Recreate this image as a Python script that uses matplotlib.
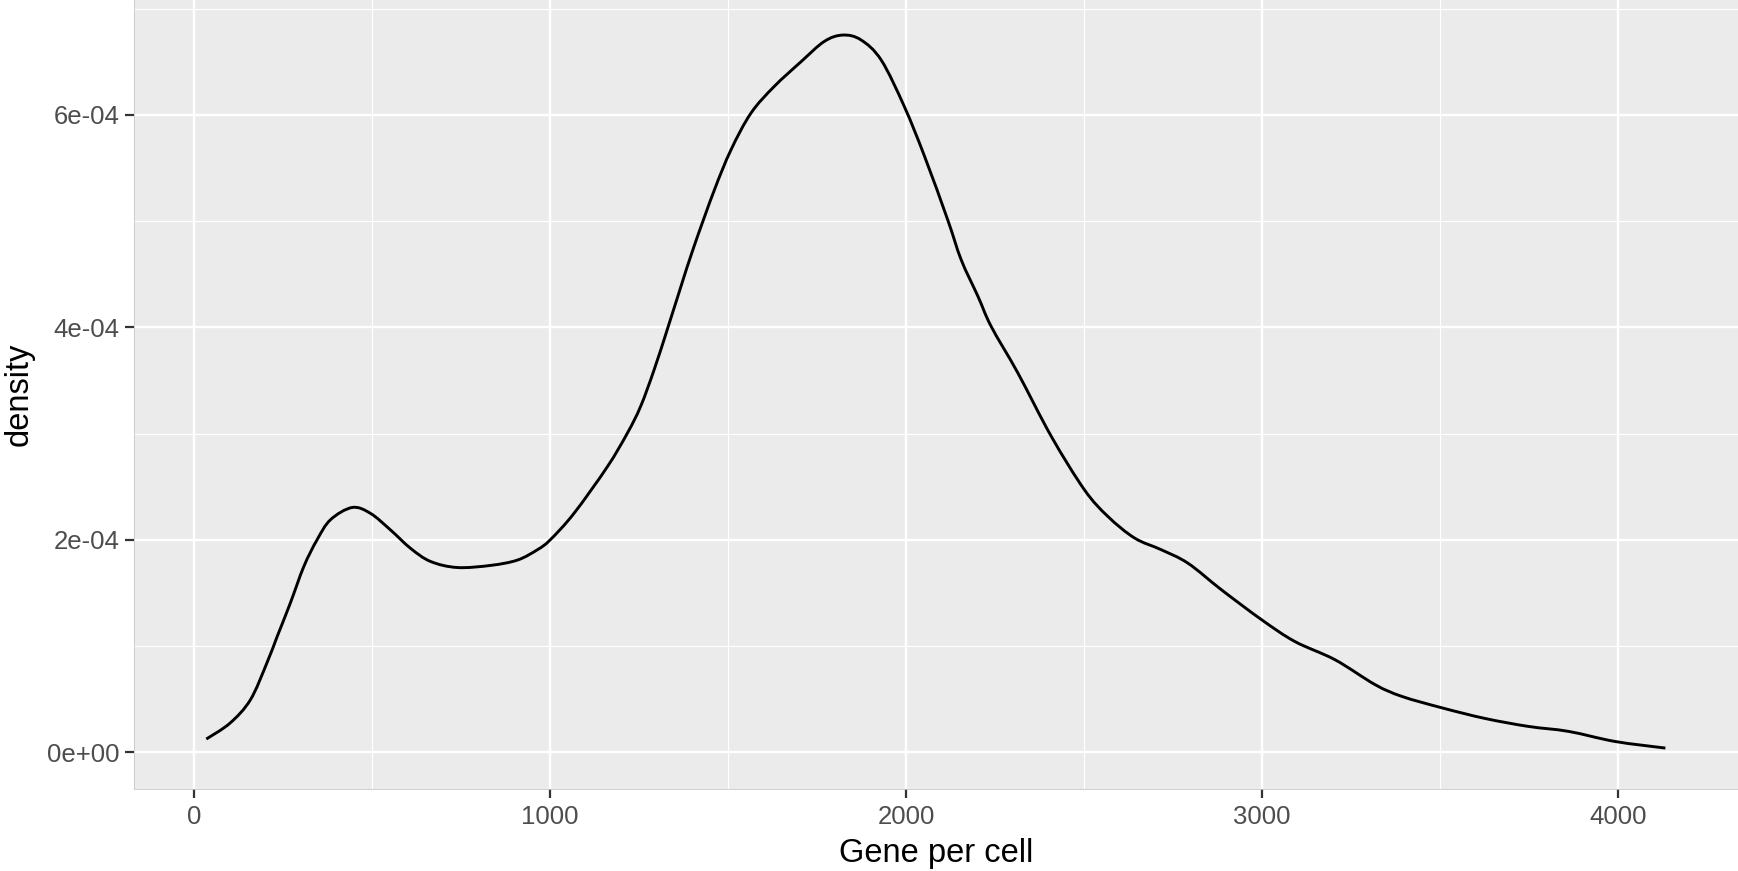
import matplotlib
matplotlib.use("Agg")
import matplotlib.pyplot as plt
from matplotlib.ticker import FixedLocator
from matplotlib.path import Path
from matplotlib.patches import PathPatch

# Data (x: genes per cell, y: density in units of 1e-4)
gene_per_cell = [34, 101, 158, 204, 233, 270, 308, 345, 383, 444, 495, 551, 608, 664,
                 739, 833, 908, 964, 1000, 1067, 1161, 1217, 1254, 1292, 1330, 1367,
                 1404, 1461, 1508, 1564, 1629, 1705, 1770, 1822, 1873, 1930, 1995,
                 2052, 2117, 2155, 2202, 2239, 2314, 2408, 2501, 2567, 2642, 2717,
                 2792, 2886, 2999, 3092, 3205, 3318, 3393, 3505, 3626, 3748, 3861,
                 3992, 4133]
density_e4 = [0.126, 0.277, 0.496, 0.84, 1.09, 1.405, 1.75, 2.0, 2.19, 2.305, 2.25,
              2.095, 1.92, 1.797, 1.74, 1.76, 1.81, 1.907, 2.0, 2.25, 2.69, 3.005,
              3.255, 3.6, 3.99, 4.38, 4.76, 5.29, 5.67, 6.015, 6.265, 6.5, 6.69, 6.75,
              6.705, 6.515, 6.077, 5.607, 5.01, 4.633, 4.29, 4.008, 3.57, 2.973, 2.471,
              2.22, 2.017, 1.907, 1.78, 1.53, 1.248, 1.044, 0.872, 0.637, 0.527, 0.42,
              0.32, 0.245, 0.198, 0.103, 0.041]
density = [v * 1e-4 for v in density_e4]

x_major = [0, 1000, 2000, 3000, 4000]
x_minor = [500, 1500, 2500, 3500]
y_major = [0, 2e-4, 4e-4, 6e-4]
y_minor = [1e-4, 3e-4, 5e-4, 7e-4]
y_labels = ["0e+00", "2e-04", "4e-04", "6e-04"]

plt.rcParams['font.family'] = ['Liberation Sans', 'DejaVu Sans']

W, H = 1738, 871
fig = plt.figure(figsize=(W / 100, H / 100), dpi=100)
left, bottom, right, top = 134.4, 789.0, 1738.0, 0.0
ax = fig.add_axes([left / W, 1 - bottom / H, (right - left) / W, (bottom - top) / H])
ax.set_facecolor('#EBEBEB')

# Smooth rendering of the density line through the read points (Catmull-Rom as Bezier)
pts = list(zip(gene_per_cell, density))
verts = [pts[0]]
codes = [Path.MOVETO]
n = len(pts)
for i in range(n - 1):
    p0 = pts[i - 1] if i > 0 else pts[i]
    p1 = pts[i]
    p2 = pts[i + 1]
    p3 = pts[i + 2] if i + 2 < n else pts[i + 1]
    c1 = (p1[0] + (p2[0] - p0[0]) / 6, p1[1] + (p2[1] - p0[1]) / 6)
    c2 = (p2[0] - (p3[0] - p1[0]) / 6, p2[1] - (p3[1] - p1[1]) / 6)
    verts += [c1, c2, p2]
    codes += [Path.CURVE4] * 3
ax.add_patch(PathPatch(Path(verts, codes), facecolor='none', edgecolor='black',
                       lw=2.1, zorder=3, capstyle='butt'))

ax.set_xlim(-168, 4337)
ax.set_ylim(-0.344e-4, 7.08e-4)

ax.xaxis.set_major_locator(FixedLocator(x_major))
ax.xaxis.set_minor_locator(FixedLocator(x_minor))
ax.yaxis.set_major_locator(FixedLocator(y_major))
ax.yaxis.set_minor_locator(FixedLocator(y_minor))
ax.set_yticklabels(y_labels)
ax.set_xticklabels([str(v) for v in x_major])

ax.grid(which='major', color='white', lw=1.7, zorder=1)
ax.grid(which='minor', color='white', lw=0.85, zorder=1)
ax.set_axisbelow(True)

ax.tick_params(which='major', length=6.5, width=1.6, color='#333333',
               labelcolor='#4D4D4D', labelsize=18.5, pad=4)
ax.tick_params(axis='x', which='major', pad=5)
ax.tick_params(which='minor', length=0)

for s in ax.spines.values():
    s.set_visible(False)
for s in ('left', 'bottom'):
    ax.spines[s].set_visible(True)
    ax.spines[s].set_color('#C8C8C8')
    ax.spines[s].set_linewidth(0.6)

fig.text((left + (right - left) / 2) / W, 1 - 853.5 / H, "Gene per cell",
         ha='center', va='center', fontsize=23.5, color='black')
fig.text(19 / W, 1 - (bottom / 2) / H, "density", rotation=90,
         ha='center', va='center', fontsize=23.5, color='black')

fig.savefig("out.png", dpi=100)
